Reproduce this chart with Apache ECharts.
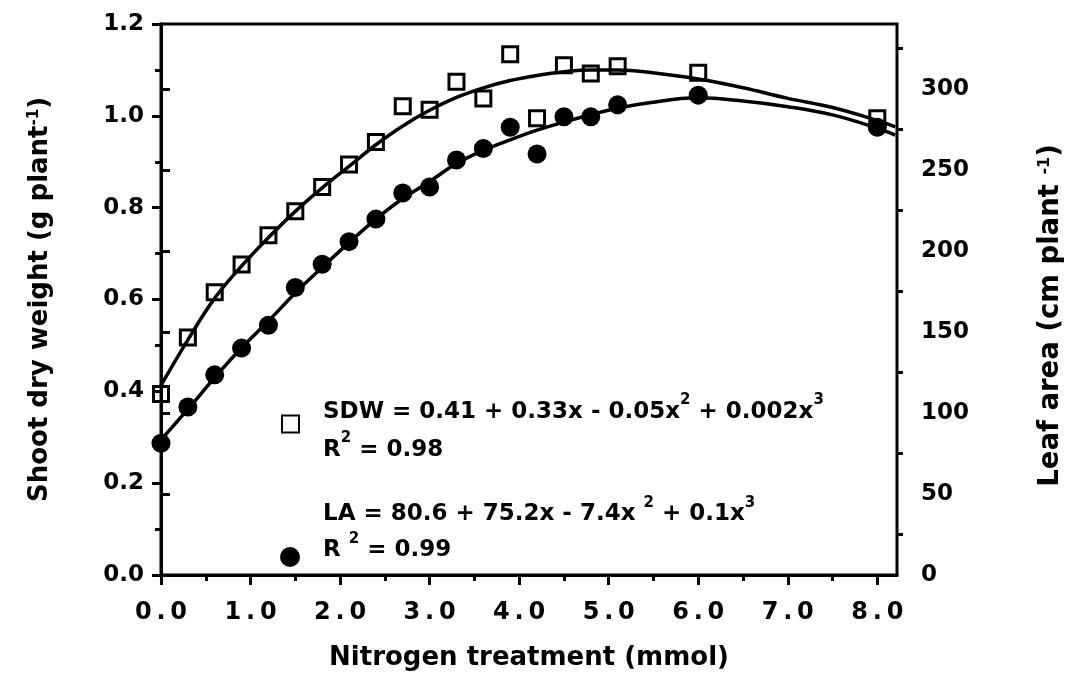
<!DOCTYPE html>
<html>
<head>
<meta charset="utf-8">
<script src="https://cdn.jsdelivr.net/npm/echarts@6/dist/echarts.min.js"></script>
<style>html,body{margin:0;padding:0;background:#fff;}#c{width:1075px;height:690px;}</style>
</head>
<body>
<div id="c"></div>
<script>
// Measured nitrogen levels (mmol)
const nitrogen = [0, 0.3, 0.6, 0.9, 1.2, 1.5, 1.8, 2.1, 2.4, 2.7, 3.0, 3.3, 3.6, 3.9, 4.2, 4.5, 4.8, 5.1, 6.0, 8.0];
// Shoot dry weight (g plant-1), open squares
const sdw = [0.394, 0.517, 0.616, 0.676, 0.740, 0.792, 0.845, 0.894, 0.943, 1.021, 1.013, 1.074, 1.038, 1.134, 0.995, 1.110, 1.092, 1.108, 1.094, 0.995];
// Leaf area (cm plant-1), filled circles
const la = [81.3, 103.7, 123.5, 140.0, 154.1, 177.4, 191.8, 205.7, 219.6, 235.7, 239.4, 256.1, 263.2, 276.3, 259.8, 282.8, 282.8, 290.1, 296.1, 276.3];
// Fitted curves
const fitX = [0, 0.3, 0.6, 0.9, 1.2, 1.5, 1.8, 2.1, 2.4, 2.7, 3.0, 3.3, 3.6, 3.9, 4.2, 4.5, 4.8, 5.1, 5.4, 6.0, 6.5, 7.0, 7.5, 8.0, 8.2];
const sdwFit = [0.413, 0.512, 0.603, 0.673, 0.735, 0.792, 0.843, 0.890, 0.937, 0.978, 1.012, 1.040, 1.061, 1.077, 1.088, 1.096, 1.100, 1.100, 1.096, 1.080, 1.061, 1.038, 1.018, 0.990, 0.976];
const laFit = [83.3, 102.3, 121.8, 140.2, 156.7, 174.0, 189.8, 205.1, 219.6, 232.3, 242.8, 253.9, 262.1, 268.5, 274.5, 279.5, 284.0, 288.0, 291.0, 294.5, 292.5, 289.0, 283.9, 275.7, 271.4];
// Axis ticks
const xMajor = [0, 1, 2, 3, 4, 5, 6, 7, 8];
const xMinor = [0.5, 1.5, 2.5, 3.5, 4.5, 5.5, 6.5, 7.5];
const laMajor = [0, 50, 100, 150, 200, 250, 300];
const laMinor = [25, 75, 125, 175, 225, 275, 325];
const sdwLegend = 'SDW = 0.41 + 0.33x - 0.05x{sup|2} + 0.002x{sup|3}\nR{sup|2} = 0.98';
const laLegend = 'LA = 80.6 + 75.2x - 7.4x {sup|2} + 0.1x{sup|3}\nR {sup|2} = 0.99';

const zip = (a, b) => a.map((v, i) => [v, b[i]]);
const FONT = 'DejaVu Sans';
const black = '#000';
const supStyle = { fontSize: 15, fontFamily: FONT, fontWeight: 'bold', color: black, verticalAlign: 'top', lineHeight: 16 };

const chart = echarts.init(document.getElementById('c'), null, { renderer: 'canvas' });
chart.setOption({
  animation: false,
  backgroundColor: '#fff',
  grid: { left: 161, right: 178, top: 24, bottom: 115, show: true, borderColor: black, borderWidth: 3, backgroundColor: 'transparent' },
  xAxis: [
    {
      type: 'value', min: 0, max: 8.22, position: 'bottom',
      name: 'Nitrogen treatment (mmol)', nameLocation: 'middle', nameGap: 70,
      nameTextStyle: { fontFamily: FONT, fontSize: 26, fontWeight: 'bold', color: black },
      axisLine: { lineStyle: { color: black, width: 3 } },
      axisTick: { customValues: xMajor, length: 10, lineStyle: { color: black, width: 3 } },
      axisLabel: { customValues: xMajor, margin: 26, fontFamily: FONT, fontSize: 24, fontWeight: 'bold', color: black,
        formatter: v => v.toFixed(1).split('').join('\u2009') },
      splitLine: { show: false }
    },
    {
      type: 'value', min: 0, max: 8.22, position: 'bottom', gridIndex: 0,
      axisLine: { show: false },
      axisTick: { customValues: xMinor, length: 6, lineStyle: { color: black, width: 3 } },
      axisLabel: { show: false }, splitLine: { show: false }
    }
  ],
  yAxis: [
    {
      type: 'value', min: 0, max: 1.2, interval: 0.2, position: 'left',
      name: 'Shoot dry weight (g plant{sup|-1})', nameLocation: 'middle', nameGap: 108, nameRotate: 90,
      nameTextStyle: { fontFamily: FONT, fontSize: 26, fontWeight: 'bold', color: black, rich: { sup: { ...supStyle, fontSize: 15 } } },
      axisLine: { show: true, lineStyle: { color: black, width: 3 } },
      axisTick: { show: true, length: 9, lineStyle: { color: black, width: 3 } },
      minorTick: { show: true, splitNumber: 2, length: 6, lineStyle: { color: black, width: 3 } },
      axisLabel: { margin: 17, fontFamily: FONT, fontSize: 23, fontWeight: 'bold', color: black, formatter: v => v.toFixed(1) },
      splitLine: { show: false }
    },
    {
      type: 'value', min: 0, max: 340, position: 'right',
      name: 'Leaf area (cm plant {sup|-1})', nameLocation: 'middle', nameGap: 140, nameRotate: 90,
      nameTextStyle: { fontFamily: FONT, fontSize: 27.5, fontWeight: 'bold', color: black, padding: [0, 32, 0, 0], rich: { sup: { ...supStyle, fontSize: 16 } } },
      axisLine: { show: true, lineStyle: { color: black, width: 3 } },
      axisTick: { show: true, customValues: laMajor, length: 9, lineStyle: { color: black, width: 3 } },
      axisLabel: { customValues: laMajor, margin: 24, fontFamily: FONT, fontSize: 23, fontWeight: 'bold', color: black },
      splitLine: { show: false }
    },
    {
      type: 'value', min: 0, max: 340, position: 'right',
      axisLine: { show: false },
      axisTick: { show: true, customValues: laMinor, length: 6, lineStyle: { color: black, width: 3 } },
      axisLabel: { show: false }, splitLine: { show: false }
    }
  ],
  legend: [
    {
      left: 276, top: 374, orient: 'vertical', data: ['SDW'], itemWidth: 17, itemHeight: 17,
      formatter: () => sdwLegend,
      textStyle: { fontFamily: FONT, fontSize: 23, fontWeight: 'bold', color: black, lineHeight: 38, padding: [14, 0, 0, 19], rich: { sup: supStyle } }
    },
    {
      left: 275, top: 491, orient: 'vertical', data: ['LA'], itemWidth: 20, itemHeight: 20,
      formatter: () => laLegend,
      textStyle: { fontFamily: FONT, fontSize: 23, fontWeight: 'bold', color: black, lineHeight: 36, padding: [0, 0, 50, 18], rich: { sup: supStyle } }
    }
  ],
  series: [
    { name: 'SDW fit', type: 'line', xAxisIndex: 0, yAxisIndex: 0, data: zip(fitX, sdwFit), smooth: 0.4, showSymbol: false, lineStyle: { color: black, width: 3.5 }, z: 3 },
    { name: 'LA fit', type: 'line', xAxisIndex: 0, yAxisIndex: 1, data: zip(fitX, laFit), smooth: 0.4, showSymbol: false, lineStyle: { color: black, width: 3.5 }, z: 3 },
    { name: 'SDW', type: 'scatter', xAxisIndex: 0, yAxisIndex: 0, data: zip(nitrogen, sdw), symbol: 'rect', symbolSize: 15,
      itemStyle: { color: 'rgba(255,255,255,0)', borderColor: black, borderWidth: 3, opacity: 1 }, z: 4 },
    { name: 'LA', type: 'scatter', xAxisIndex: 0, yAxisIndex: 1, data: zip(nitrogen, la), symbol: 'circle', symbolSize: 19,
      itemStyle: { color: black, opacity: 1 }, z: 4 }
  ]
});
</script>
</body>
</html>
